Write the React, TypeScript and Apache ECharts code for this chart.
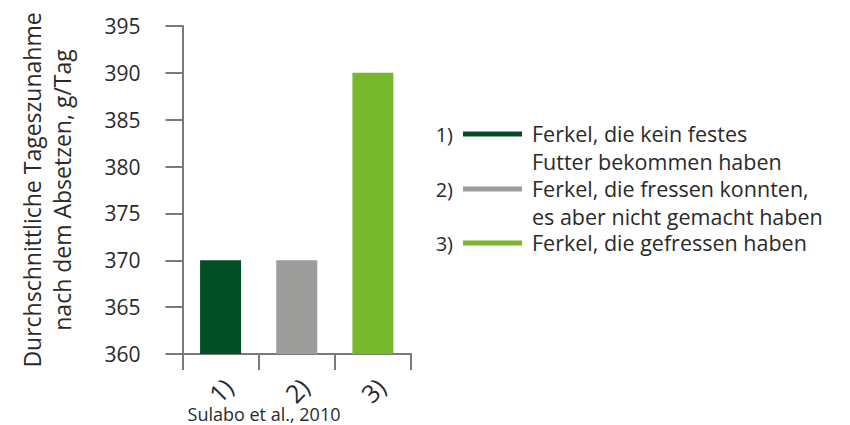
import React, { useEffect, useRef } from "react";
import * as echarts from "echarts";

const categories = ["1)", "2)", "3)"];
const values = [370, 370, 390];
const barColors = ["#034f25", "#9d9d9c", "#77b72b"];
const legendNumbers = ["1)", "2)", "3)"];
const legendLabels = [
  "Ferkel, die kein festes\nFutter bekommen haben",
  "Ferkel, die fressen konnten,\nes aber nicht gemacht haben",
  "Ferkel, die gefressen haben",
];
const yTitle = "Durchschnittliche Tageszunahme\nnach dem Absetzen, g/Tag";
const sourceText = "Sulabo et al., 2010";

const FONT = "'Open Sans', 'Noto Sans', sans-serif";
const TEXT = "#2a2a2a";
const AXIS = "#7a7a7a";

export default function App() {
  const ref = useRef<HTMLDivElement>(null);
  useEffect(() => {
    if (!ref.current) return;
    const chart = echarts.init(ref.current, undefined, { renderer: "svg" });
    const rowY = [134, 189, 243];
    const legendGraphics: any[] = [];
    legendNumbers.forEach((n, i) => {
      legendGraphics.push({
        type: "text",
        x: 453,
        y: rowY[i],
        style: {
          text: n,
          font: `20px ${FONT}`,
          fill: TEXT,
          align: "right",
          verticalAlign: "middle",
        },
      });
      legendGraphics.push({
        type: "rect",
        shape: { x: 463, y: rowY[i] - 2.5, width: 59, height: 5 },
        style: { fill: barColors[i] },
      });
      legendGraphics.push({
        type: "text",
        x: 532,
        y: rowY[i] - 14,
        style: {
          text: legendLabels[i],
          font: `21.5px ${FONT}`,
          fill: TEXT,
          align: "left",
          verticalAlign: "top",
          lineHeight: 27.5,
        },
      });
    });
    chart.setOption({
      animation: false,
      grid: {
        left: 182.5,
        right: 439,
        top: 26,
        bottom: 71,
        containLabel: false,
        outerBoundsMode: "none",
      },
      xAxis: {
        type: "category",
        data: categories,
        axisLine: { show: true, lineStyle: { color: AXIS, width: 2 } },
        axisTick: { show: true, length: 16, alignWithLabel: false, lineStyle: { color: AXIS, width: 2 } },
        axisLabel: {
          rotate: 45,
          align: "center",
          verticalAlign: "middle",
          margin: 36,
          fontSize: 25,
          fontFamily: FONT,
          color: TEXT,
        },
      },
      yAxis: {
        type: "value",
        min: 360,
        max: 395,
        interval: 5,
        name: yTitle,
        nameLocation: "middle",
        nameRotate: 90,
        nameGap: 106,
        nameTextStyle: {
          fontSize: 23,
          fontFamily: FONT,
          color: TEXT,
          lineHeight: 30,
          align: "center",
        },
        axisLine: { show: true, lineStyle: { color: AXIS, width: 2 } },
        axisTick: { show: true, length: 17, lineStyle: { color: AXIS, width: 2 } },
        splitLine: { show: false },
        axisLabel: {
          margin: 42,
          fontSize: 21,
          fontFamily: FONT,
          color: TEXT,
        },
      },
      series: [
        {
          type: "bar",
          barWidth: 41,
          data: values.map((v, i) => ({ value: v, itemStyle: { color: barColors[i] } })),
        },
      ],
      graphic: [
        ...legendGraphics,
        {
          type: "text",
          x: 264,
          y: 414,
          style: {
            text: sourceText,
            font: `18px ${FONT}`,
            fill: TEXT,
            align: "center",
            verticalAlign: "middle",
          },
        },
      ],
    });
    return () => chart.dispose();
  }, []);
  return <div ref={ref} style={{ width: 850, height: 425, position: "absolute", left: 0, top: 0 }} />;
}
